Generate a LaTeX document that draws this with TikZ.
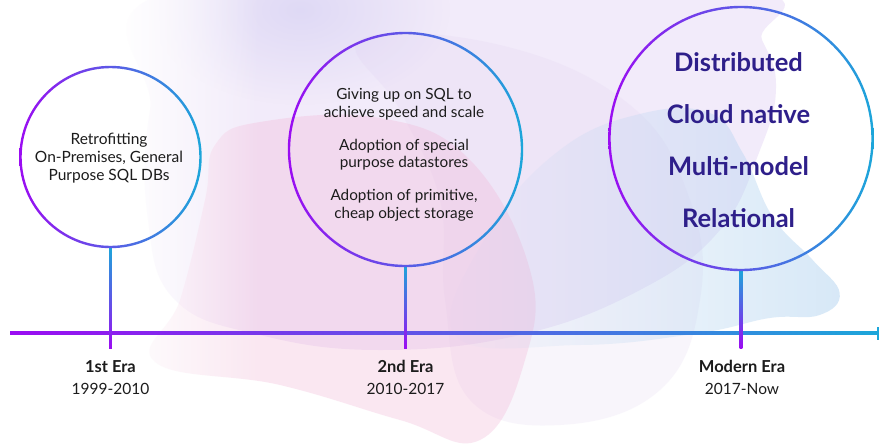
\documentclass[tikz,border=0pt]{standalone}
\usepackage{fontspec}
\setmainfont{Lato}
\usetikzlibrary{calc,fadings}

\definecolor{tlpurple}{HTML}{9B0CF2}
\definecolor{tlcyan}{HTML}{1CA6DA}
\definecolor{ink}{HTML}{1C1C1C}
\definecolor{deepindigo}{HTML}{2E1F8A}
\definecolor{blobLav}{HTML}{E2D0F4}
\definecolor{blobLavDark}{HTML}{C8C4F0}
\definecolor{blobMauve}{HTML}{DCCCEE}
\definecolor{blobPink}{HTML}{F2B6D6}
\definecolor{blobBlue}{HTML}{B0D2F0}

% soft edges for the background shapes
\tikzfading[name=fadeoutright, left color=transparent!0, right color=transparent!100]
\tikzfading[name=blueedge, left color=transparent!100, middle color=transparent!0, right color=transparent!0]
\tikzfading[name=softspot, inner color=transparent!0, outer color=transparent!100]

\begin{document}
\begin{tikzpicture}[x=1pt,y=-1pt,
  ring/.style={left color=tlpurple, right color=tlcyan, even odd rule},
  stem/.style={top color=tlcyan, bottom color=tlpurple},
  era/.style={circle, minimum size=#1, inner sep=0pt},
  smalltext/.style={font=\fontsize{15.5}{18}\selectfont, text=ink, inner sep=0pt, anchor=base},
  midtext/.style={font=\fontsize{15.3}{18}\selectfont, text=ink, inner sep=0pt, anchor=base},
  bigtext/.style={font=\fontsize{25.5}{30}\selectfont\bfseries, text=deepindigo, inner sep=0pt, anchor=base},
  eraname/.style={font=\fontsize{16.5}{20}\selectfont\bfseries, text=ink, inner sep=0pt, anchor=base},
  erayears/.style={font=\fontsize{15.5}{18}\selectfont, text=ink, inner sep=0pt, anchor=base}]
\useasboundingbox (0,0) rectangle (879,445);
\fill[white] (0,0) rectangle (879,445);

% ---------- background shapes ----------
\fill[blobLav, opacity=.42] plot[smooth cycle, tension=.7] coordinates {
  (185,-12) (727,-12) (762,40) (776,88) (760,150) (720,230) (640,290) (520,335)
  (380,350) (260,335) (175,300) (148,220) (150,110)};
\fill[blobLavDark, opacity=.45, path fading=softspot] (300,10) ellipse[x radius=150pt, y radius=95pt];
\fill[blobMauve, opacity=.18] plot[smooth cycle, tension=.7] coordinates {
  (360,40) (500,45) (630,105) (690,200) (700,300) (660,390) (560,425)
  (470,400) (445,300) (440,200) (400,110)};
\fill[blobPink, opacity=.32] plot[smooth cycle, tension=.7] coordinates {
  (260,122) (380,118) (470,160) (530,270) (525,360) (480,440) (400,420)
  (280,385) (155,362) (180,300) (205,200) (215,145)};
\fill[blobBlue, opacity=.5, path fading=blueedge] plot[smooth cycle, tension=.7] coordinates {
  (455,335) (490,230) (560,150) (640,114) (710,113) (743,153) (773,217)
  (813,260) (840,293) (820,315) (770,318) (700,333) (580,345)};
\fill[white, path fading=fadeoutright] (120,-5) rectangle (260,450);

% ---------- timeline ----------
\coordinate (tl0) at (10,333);
\coordinate (tlEnd) at (879,333);

\node[era=180pt] (c1) at (110.5,157) {};
\node[era=233pt] (c2) at (405.5,149.5) {};
\node[era=263pt] (c3) at (741,138.5) {};

\coordinate (e1) at ($(c1.south |- tl0)+(0,15)$);
\coordinate (e2) at ($(c2.south |- tl0)+(0,15)$);
\coordinate (e3) at ($(c3.south |- tl0)+(0,15)$);

\shade[left color=tlpurple, right color=tlcyan]
  ($(tl0)+(0,-1.3)$) rectangle ($(tlEnd)+(0,1.3)$);
\fill[tlcyan] ($(tlEnd)+(-2.5,-6.5)$) rectangle ($(tlEnd)+(0,6.5)$);

\shade[stem] ($(c1.south)+(-1.3,0)$) rectangle ($(e1)+(1.3,0)$);
\shade[stem] ($(c2.south)+(-1.3,0)$) rectangle ($(e2)+(1.3,0)$);
\shade[stem] ($(c3.south)+(-1.3,0)$) rectangle ($(e3)+(1.3,0)$);

% gradient rings
\shade[ring] (c1.center) circle[radius=91.2pt] (c1.center) circle[radius=88.8pt];
\shade[ring] (c2.center) circle[radius=117.7pt] (c2.center) circle[radius=115.3pt];
\shade[ring] (c3.center) circle[radius=132.7pt] (c3.center) circle[radius=130.3pt];

% ---------- first era ----------
\node[smalltext] (a1) at (109,144) {Retrofitting};
\node[smalltext] (a2) at (109,162.3) {On-Premises, General};
\node[smalltext] (a3) at (109,180.7) {Purpose SQL DBs};

% ---------- second era ----------
\node[midtext] (b1) at (404,99) {Giving up on SQL to};
\node[midtext] (b2) at (404,117) {achieve speed and scale};
\node[midtext] (b3) at (404,150) {Adoption of special};
\node[midtext] (b4) at (404,167.7) {purpose datastores};
\node[midtext] (b5) at (404,200) {Adoption of primitive,};
\node[midtext] (b6) at (404,218) {cheap object storage};

% ---------- modern era ----------
\node[bigtext] (m1) at (738.5,71.7) {Distributed};
\node[bigtext] (m2) at (738.5,123.3) {Cloud native};
\node[bigtext] (m3) at (738.5,175) {Multi-model};
\node[bigtext] (m4) at (738.5,227.7) {Relational};

% ---------- era labels ----------
\node[eraname] (n1) at (110.5,372.7) {1st Era};
\node[erayears] (y1) at (110.5,394) {1999-2010};
\node[eraname] (n2) at (405.5,372.7) {2nd Era};
\node[erayears] (y2) at (405.5,394) {2010-2017};
\node[eraname] (n3) at (742,372.7) {Modern Era};
\node[erayears] (y3) at (742,394) {2017-Now};
\end{tikzpicture}
\end{document}
